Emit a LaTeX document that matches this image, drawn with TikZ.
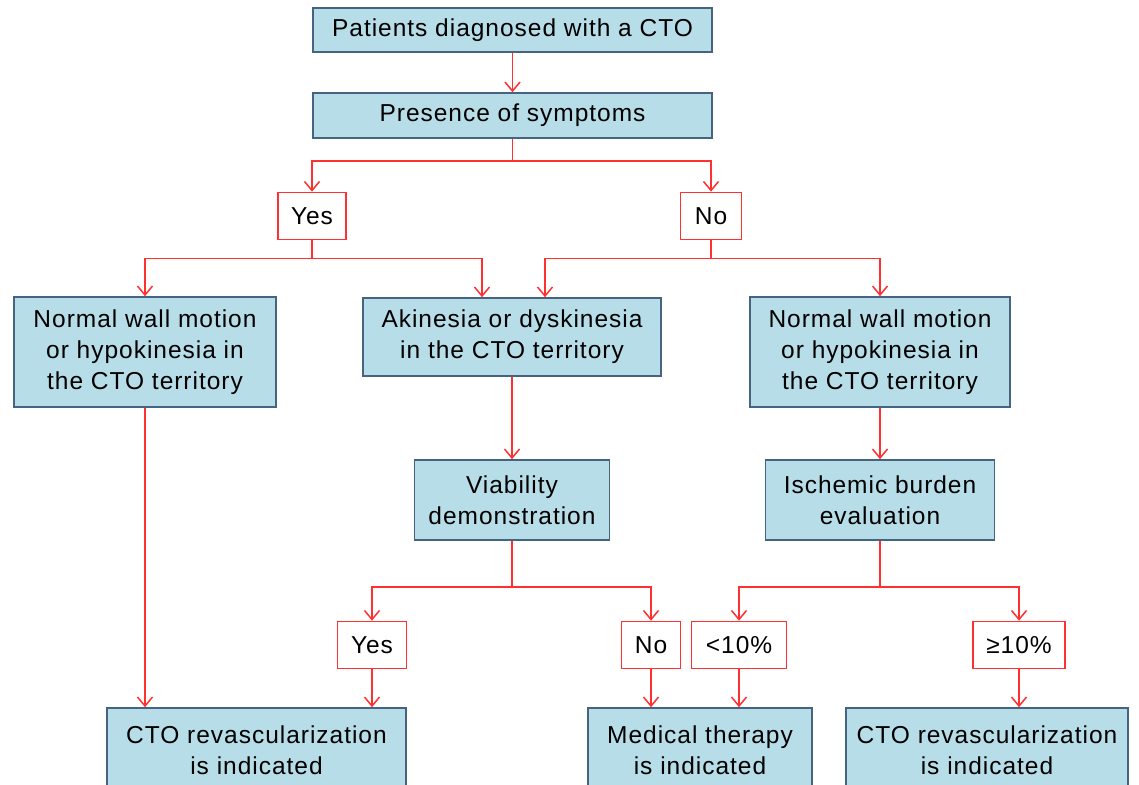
\documentclass[tikz,border=0pt]{standalone}
\usepackage{fontspec}
\setmainfont{Liberation Sans}[LetterSpace=4]
\usetikzlibrary{arrows.meta}
\definecolor{boxfill}{HTML}{B7DEE8}
\definecolor{boxline}{HTML}{46637F}
\definecolor{flow}{HTML}{FF3030}

\begin{document}
\begin{tikzpicture}[x=1pt,y=-1pt]
\tikzstyle{box}=[draw=boxline,fill=boxfill,line width=1.6pt,align=center,inner sep=0pt,font=\fontsize{24.5}{31}\selectfont]
\tikzstyle{tag}=[draw=flow,fill=white,line width=1.7pt,inner sep=0pt,minimum height=47pt,font=\fontsize{24.5}{31}\selectfont]
\tikzstyle{arr}=[draw=flow,line width=1.5pt,-{Straight Barb[length=9pt,width=15pt]}]
\path[use as bounding box,fill=white] (0,0) rectangle (1139,784);
\node[box,minimum width=399pt,minimum height=44pt] (P) at (512.5,30) {Patients diagnosed with a CTO};
\node[box,minimum width=399pt,minimum height=45pt] (S) at (512.5,115.5) {Presence of symptoms};
\node[tag,minimum width=68pt] (Y1) at (312,216) {Yes};
\node[tag,minimum width=61pt] (N1) at (711,216) {No};
\node[box,minimum width=262pt,minimum height=110pt] (L) at (145,352) {Normal wall motion\\or hypokinesia in\\the CTO territory};
\node[box,minimum width=298pt,minimum height=78pt] (A) at (512,337) {Akinesia or dyskinesia\\in the CTO territory};
\node[box,minimum width=260pt,minimum height=110pt] (R) at (880,352) {Normal wall motion\\or hypokinesia in\\the CTO territory};
\node[box,minimum width=195pt,minimum height=80pt] (V) at (512,500) {Viability\\demonstration};
\node[box,minimum width=229pt,minimum height=80pt] (I) at (880,500) {Ischemic burden\\evaluation};
\node[tag,minimum width=69pt] (Y2) at (372,645) {Yes};
\node[tag,minimum width=59pt] (N2) at (651,645) {No};
\node[tag,minimum width=95pt] (Lt) at (739,645) {<10\%};
\node[tag,minimum width=92pt] (Ge) at (1019,645) {≥10\%};
\node[box,minimum width=299pt,minimum height=84pt] (B1) at (256.5,750) {CTO revascularization\\is indicated};
\node[box,minimum width=224pt,minimum height=84pt] (B2) at (700,750) {Medical therapy\\is indicated};
\node[box,minimum width=282pt,minimum height=84pt] (B3) at (987,750) {CTO revascularization\\is indicated};
\draw[arr] (P) -- (S);
\draw[arr] (S.south) -- ++(0,22) -| (Y1);
\draw[arr] (S.south) -- ++(0,22) -| (N1);
\draw[arr] (Y1.south) -- ++(0,18) -| (L);
\draw[arr] (Y1.south) -- ++(0,18) -| ([xshift=-30pt]A.north);
\draw[arr] (N1.south) -- ++(0,18) -| ([xshift=33pt]A.north);
\draw[arr] (N1.south) -- ++(0,18) -| (R);
\draw[arr] (A) -- (V);
\draw[arr] (R) -- (I);
\draw[arr] (V.south) -- ++(0,46) -| (Y2);
\draw[arr] (V.south) -- ++(0,46) -| (N2);
\draw[arr] (I.south) -- ++(0,46) -| (Lt);
\draw[arr] (I.south) -- ++(0,46) -| (Ge);
\draw[arr] (L.south) -- (L.south |- B1.north);
\draw[arr] (Y2) -- (Y2 |- B1.north);
\draw[arr] (N2) -- (N2 |- B2.north);
\draw[arr] (Lt) -- (Lt |- B2.north);
\draw[arr] (Ge) -- (Ge |- B3.north);
\end{tikzpicture}
\end{document}
